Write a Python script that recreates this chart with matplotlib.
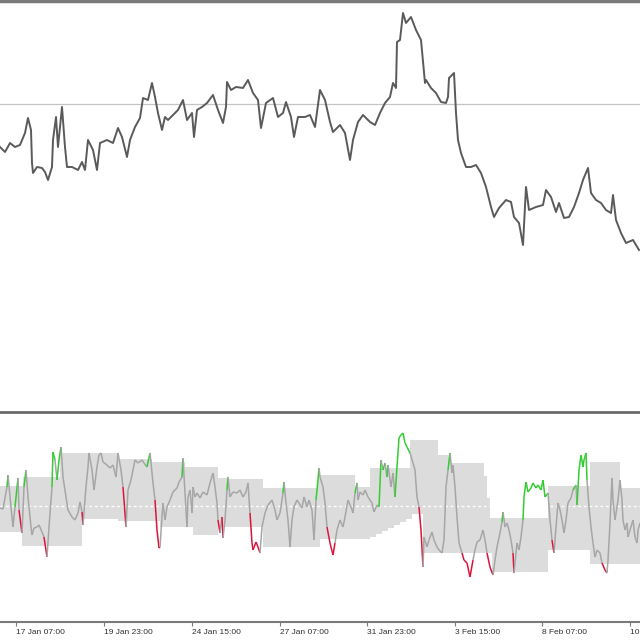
import numpy as np
import matplotlib.pyplot as plt
from matplotlib.collections import LineCollection

# price pane: bar number vs price level (arbitrary units)
price_x = [0, 5, 10, 15, 20, 25, 28, 31, 32, 33, 37, 42, 45, 48, 52, 53, 56, 58, 62, 65,
           67, 72, 78, 82, 85, 88, 93, 97, 100, 107, 113, 118, 122, 127, 130, 135, 140, 143, 148, 152,
           155, 158, 162, 165, 168, 173, 178, 183, 187, 192, 194, 197, 202, 207, 213, 218, 223, 226, 227, 231,
           236, 243, 248, 253, 258, 261, 266, 273, 278, 283, 286, 291, 294, 298, 305, 310, 315, 320, 325, 330,
           333, 340, 345, 350, 353, 358, 363, 370, 375, 380, 385, 390, 393, 396, 397, 400, 403, 406, 411, 416,
           421, 425, 426, 431, 436, 441, 446, 448, 449, 454, 456, 458, 461, 466, 471, 476, 481, 486, 491, 494,
           499, 506, 511, 514, 519, 523, 526, 529, 536, 543, 546, 551, 556, 559, 564, 569, 574, 579, 583, 588,
           591, 596, 601, 606, 611, 613, 616, 621, 626, 633, 639]
price_y = [265, 260, 269, 265, 267, 279, 294, 282, 249, 239, 245, 244, 240, 232, 245, 272, 295, 265, 305, 265,
           245, 245, 242, 250, 242, 272, 262, 242, 269, 272, 269, 284, 275, 255, 272, 285, 294, 314, 312, 329,
           315, 299, 282, 295, 292, 297, 302, 312, 292, 299, 275, 302, 305, 309, 317, 302, 289, 305, 330, 322,
           325, 324, 332, 319, 312, 284, 309, 314, 295, 299, 310, 295, 275, 295, 295, 297, 285, 322, 312, 290,
           280, 287, 279, 252, 272, 290, 297, 290, 287, 299, 309, 315, 329, 324, 370, 372, 399, 389, 395, 382,
           372, 329, 332, 324, 319, 310, 309, 315, 334, 339, 299, 272, 259, 245, 245, 247, 239, 225, 205, 195,
           204, 212, 210, 195, 189, 167, 225, 202, 205, 207, 222, 215, 200, 209, 194, 195, 205, 219, 232, 244,
           219, 212, 209, 202, 199, 217, 192, 179, 169, 172, 162]
level = 308

# oscillator pane
osc_x = [0, 3, 7, 8, 10, 13, 15, 18, 19, 22, 24, 26, 28, 31, 32, 34, 37, 39, 42, 44,
         47, 49, 52, 53, 55, 57, 59, 61, 63, 66, 68, 72, 75, 78, 80, 82, 83, 86, 88, 89,
         92, 94, 97, 99, 101, 103, 107, 110, 113, 116, 118, 121, 123, 126, 128, 131, 133, 135, 138, 142,
         144, 147, 150, 153, 155, 157, 159, 160, 162, 163, 165, 167, 170, 173, 177, 179, 182, 183, 185, 187,
         188, 190, 192, 193, 195, 197, 200, 203, 207, 210, 213, 215, 217, 218, 220, 222, 223, 225, 227, 228,
         230, 233, 237, 240, 243, 246, 248, 250, 252, 253, 256, 258, 260, 262, 265, 268, 272, 275, 277, 280,
         283, 284, 286, 288, 290, 292, 294, 297, 299, 302, 304, 307, 309, 312, 314, 316, 318, 319, 320, 323,
         325, 327, 330, 333, 335, 337, 340, 343, 345, 348, 351, 353, 355, 357, 358, 360, 363, 365, 368, 372,
         374, 377, 379, 381, 383, 385, 387, 388, 391, 393, 395, 397, 399, 401, 403, 405, 407, 410, 413, 415,
         417, 419, 421, 423, 424, 427, 429, 432, 434, 437, 439, 442, 444, 446, 448, 450, 452, 453, 455, 457,
         459, 462, 464, 467, 470, 473, 475, 477, 480, 483, 485, 487, 490, 493, 495, 497, 500, 502, 503, 505,
         507, 509, 511, 513, 514, 516, 517, 519, 521, 523, 524, 526, 528, 531, 533, 536, 538, 541, 543, 545,
         548, 550, 552, 554, 556, 558, 560, 562, 564, 566, 568, 571, 573, 576, 577, 579, 581, 583, 584, 586,
         587, 589, 591, 593, 595, 597, 600, 602, 605, 607, 608, 610, 612, 613, 615, 617, 618, 620, 622, 623,
         625, 627, 628, 630, 633, 635, 637, 638, 640]
osc_y = [-2, -3, 19, 31, 9, -21, -1, 28, -4, -27, 19, 36, 9, -21, -29, -22, -21, -19, -26, -31,
         -51, -21, 19, 54, 46, 26, 46, 59, 29, 9, -4, -11, -14, -7, 4, -6, -19, 19, 39, 53,
         36, 16, 39, 51, 53, 44, 41, 38, 41, 29, 53, 36, 19, -21, 16, 26, 36, 46, 43, 46,
         43, 39, 53, 23, 6, -24, -42, -41, -11, 3, -14, -1, 6, 14, 18, 24, 29, 48, 13, -21,
         9, 16, -7, 19, 9, 13, 8, 14, 11, 23, 33, 19, 3, -14, -27, -11, -32, -14, 16, 29,
         9, 14, 13, 16, 9, 14, 23, -7, -37, -44, -36, -41, -47, -21, -7, 1, 6, -4, -14, -7,
         13, 24, 3, -14, -41, -14, -1, 6, 3, -2, 9, -1, 6, -4, -34, 6, 26, 38, 29, 19,
         3, -21, -37, -49, -37, -24, -14, -21, -11, 6, -1, -7, 13, 23, 6, 14, 11, 16, 9, 3,
         -6, 1, -1, 46, 36, 43, 29, 41, 19, 33, 9, 39, 68, 71, 73, 63, 59, 53, 43, 36,
         9, -1, -24, -61, -31, -41, -34, -26, -34, -41, -44, -47, -34, 19, 36, 53, 33, 41, 19, -11,
         -37, -47, -54, -57, -71, -54, -44, -36, -34, -24, -34, -47, -61, -69, -54, -41, -27, -16, -6, -21,
         -17, -24, -34, -47, -67, -47, -37, -44, -31, -14, 9, 24, 14, 18, 23, 18, 21, 16, 26, 9,
         13, -14, -34, -47, -21, 3, -4, -14, -27, -14, 3, 8, 16, 21, 1, 36, 51, 39, 46, 53,
         26, -1, -21, -37, -51, -44, -47, -57, -64, -67, -54, -17, 28, 6, -14, -1, 6, 26, 6, -14,
         -24, -17, -31, -24, -14, -31, -37, -24, -17]

# band steps (bar where each level starts)
up_x = [0, 23, 60, 118, 152, 185, 218, 227, 263, 318, 355, 370, 410, 438, 450, 484, 487, 490, 548, 590, 620]
up_v = [20, 29, 53, 47, 44, 39, 28, 27, 18, 31, 19, 38, 66, 51, 43, 30, 8, -12, 20, 44, 18]
lo_x = [0, 22, 82, 118, 160, 193, 218, 263, 320, 370, 376, 382, 388, 394, 400, 406, 412, 423, 492, 548, 590]
lo_v = [-26, -40, -13, -15, -21, -29, -21, -41, -33, -31, -28, -25, -22, -19, -16, -13, -8, -47, -66, -44, -58]

tick_pos = [16, 104, 192, 280, 367, 455, 542, 630]
tick_lab = ['17 Jan 07:00', '19 Jan 23:00', '24 Jan 15:00', '27 Jan 07:00',
            '31 Jan 23:00', '3 Feb 15:00', '8 Feb 07:00', '10 Feb 23:00']


def step_at(xs, vs, q):
    idx = np.searchsorted(xs, q, side='right') - 1
    return np.asarray(vs)[np.clip(idx, 0, len(vs) - 1)]


fig = plt.figure(figsize=(6.4, 6.4), dpi=100)
ax1 = fig.add_axes([0, 0.35625, 1, 0.6422])
ax2 = fig.add_axes([0, 0.028125, 1, 0.325])

# price pane
ax1.axhline(level, color='#c4c4c4', lw=0.9)
ax1.plot(price_x, price_y, color='#5a5a5a', lw=1.4)
ax1.set_xlim(0, 640)
ax1.set_ylim(0, 411)
ax1.set_xticks([])
ax1.set_yticks([])
for s in ['left', 'right']:
    ax1.spines[s].set_visible(False)
ax1.spines['top'].set_color('#7a7a7a')
ax1.spines['top'].set_linewidth(2.5)
ax1.spines['bottom'].set_color('#6a6a6a')
ax1.spines['bottom'].set_linewidth(2)

# oscillator pane
grid = np.array(sorted(set(up_x) | set(lo_x) | {640}))
ax2.fill_between(grid, step_at(up_x, up_v, grid), step_at(lo_x, lo_v, grid),
                 step='post', color='#dcdcdc', lw=0)
ax2.axhline(0, color='white', lw=1, ls=(0, (2, 2)))

ox = np.array(osc_x, dtype=float)
oy = np.array(osc_y, dtype=float)
segs = np.stack([np.column_stack([ox[:-1], oy[:-1]]), np.column_stack([ox[1:], oy[1:]])], axis=1)
upper = step_at(up_x, up_v, ox[:-1])
lower = step_at(lo_x, lo_v, ox[:-1])
cols = []
for i in range(len(segs)):
    if oy[i + 1] > upper[i]:
        cols.append('#33cc33')
    elif oy[i + 1] < lower[i]:
        cols.append('#dc143c')
    else:
        cols.append('#a6a6a6')
ax2.add_collection(LineCollection(segs, colors=cols, linewidths=1.1))

ax2.set_xlim(0, 640)
ax2.set_ylim(-116, 92)
ax2.set_yticks([])
for s in ['left', 'right', 'top']:
    ax2.spines[s].set_visible(False)
ax2.spines['bottom'].set_color('#7a7a7a')
ax2.spines['bottom'].set_linewidth(1.5)
ax2.set_xticks(tick_pos)
ax2.set_xticklabels(tick_lab, ha='left', fontsize=6, family='Liberation Sans', color='#303030')
ax2.tick_params(axis='x', length=3, width=0.8, color='#7a7a7a', pad=2)

fig.savefig('out.png', dpi=100, facecolor='white')
